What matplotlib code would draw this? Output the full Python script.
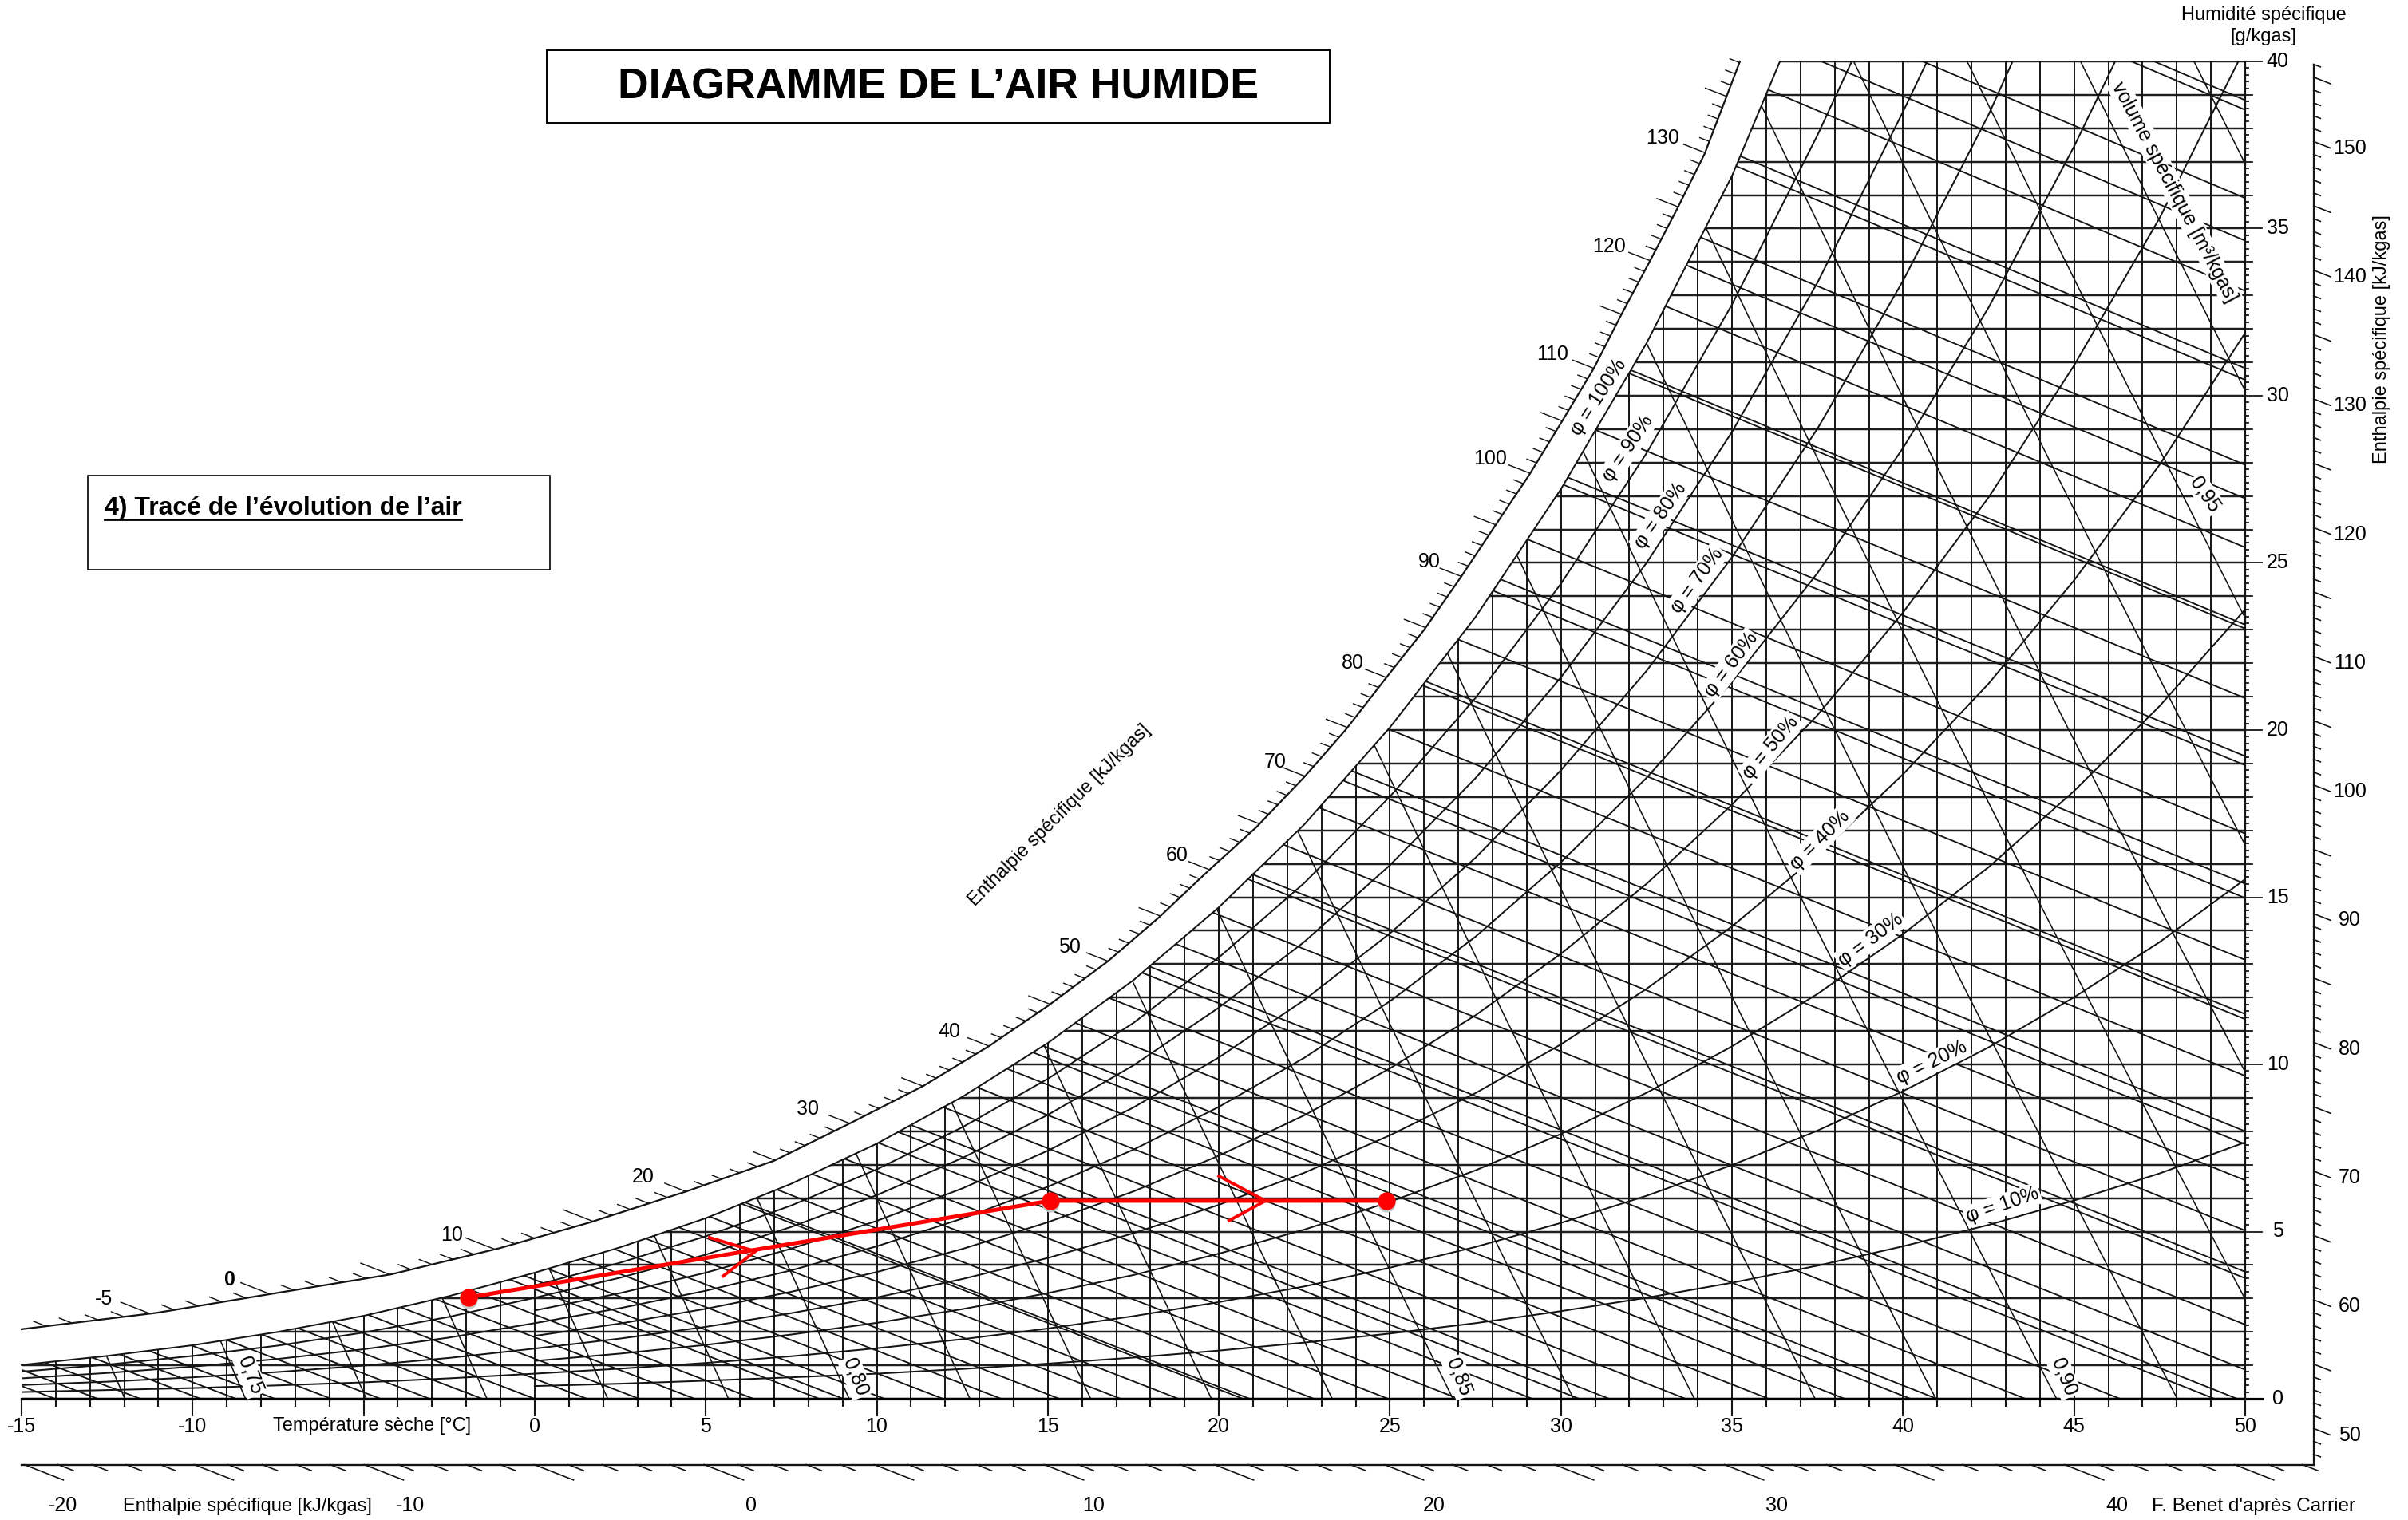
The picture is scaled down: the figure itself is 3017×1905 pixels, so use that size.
from matplotlib import pyplot as plt
from matplotlib.patches import Polygon, Rectangle
from matplotlib.collections import LineCollection
from matplotlib.lines import Line2D
import numpy as np

plt.rcParams['font.family'] = ['Liberation Sans', 'DejaVu Sans']

W, H = 3017, 1905
S = W / 1568

# relative humidity curves: w in g/kgas at t_grid temperatures
t_grid = [-15, -12.5, -10, -7.5, -5, -2.5, 0, 2.5, 5, 7.5, 10, 12.5, 15, 17.5, 20, 22.5, 25, 27.5, 30,
          32.5, 35, 37.5, 40, 42.5, 45, 47.5, 50]
phi_100 = [1.01, 1.28, 1.60, 2.00, 2.48, 3.07, 3.77, 4.53, 5.40, 6.43, 7.63, 9.03, 10.64, 12.52, 14.70,
           17.18, 20.08, 23.38, 27.21, 31.57, 36.58]
phi_90 = [.91, 1.15, 1.44, 1.80, 2.23, 2.76, 3.39, 4.07, 4.86, 5.78, 6.86, 8.12, 9.57, 11.24, 13.20,
          15.43, 18.01, 20.96, 24.38, 28.28, 32.73, 37.80]
phi_80 = [.81, 1.02, 1.28, 1.59, 1.98, 2.45, 3.02, 3.62, 4.31, 5.14, 6.09, 7.20, 8.49, 9.97, 11.70,
          13.67, 15.96, 18.56, 21.58, 25.00, 28.92, 33.39, 38.50]
phi_70 = [.71, .90, 1.12, 1.40, 1.73, 2.14, 2.64, 3.16, 3.77, 4.49, 5.32, 6.29, 7.42, 8.71, 10.21,
          11.93, 13.92, 16.18, 18.80, 21.77, 25.17, 29.02, 33.44, 38.41]
phi_60 = [.61, .77, .96, 1.19, 1.48, 1.83, 2.26, 2.71, 3.23, 3.84, 4.56, 5.39, 6.34, 7.45, 8.73,
          10.20, 11.89, 13.82, 16.05, 18.57, 21.44, 24.70, 28.44, 32.64, 37.46]
phi_50 = [.51, .64, .80, 1.00, 1.24, 1.53, 1.88, 2.25, 2.69, 3.20, 3.79, 4.48, 5.28, 6.20, 7.27,
          8.48, 9.88, 11.47, 13.31, 15.40, 17.77, 20.45, 23.52, 26.96, 30.91, 35.32]
phi_40 = [.41, .51, .64, .80, .99, 1.22, 1.50, 1.80, 2.15, 2.56, 3.03, 3.58, 4.21, 4.95, 5.80,
          6.76, 7.88, 9.14, 10.60, 12.26, 14.13, 16.25, 18.68, 21.39, 24.48, 27.94, 31.88]
phi_30 = [.31, .38, .48, .60, .74, .92, 1.13, 1.35, 1.61, 1.92, 2.27, 2.68, 3.16, 3.70, 4.34,
          5.06, 5.89, 6.83, 7.92, 9.15, 10.54, 12.11, 13.90, 15.90, 18.18, 20.72, 23.61]
phi_20 = [.20, .26, .32, .40, .49, .61, .75, .90, 1.07, 1.27, 1.51, 1.78, 2.10, 2.47, 2.89,
          3.36, 3.92, 4.54, 5.26, 6.07, 6.99, 8.02, 9.20, 10.51, 12.01, 13.66, 15.54]
phi_10 = [.10, .13, .16, .20, .25, .31, .38, .45, .54, .64, .75, .89, 1.05, 1.23, 1.44,
          1.68, 1.95, 2.26, 2.62, 3.02, 3.47, 3.98, 4.56, 5.20, 5.93, 6.74, 7.67]
# temperature where each curve reaches the 40 g/kgas top edge
t_top = {100: 36.4, 90: 38.5, 80: 40.7, 70: 43.2, 60: 46.2, 50: 49.8}
phi_curves = {100: phi_100, 90: phi_90, 80: phi_80, 70: phi_70, 60: phi_60, 50: phi_50,
              40: phi_40, 30: phi_30, 20: phi_20, 10: phi_10}
# odd tens only start at 0 degC on the chart
phi_from_zero = [90, 70, 50, 30, 10]

# enthalpy lines, kJ/kgas, as read where they meet the two edges of the grid
h_lines = [-14.2, -13, -11.8, -10.1, -9.1, -8, -6.4, -5, -3.6, -2.1, -0.6, 0.9, 2.4, 4, 5.7, 7.6, 8.3, 9.5,
           11.2, 12.9, 14.6, 16.4, 18.1, 20, 20.2, 22.1, 24.3, 26.4, 28.6, 30, 30.9, 33.2, 35.7, 38, 40,
           40.8, 43.5, 46.4, 49.3, 50, 52.5, 56, 59.6, 60.1, 63.3, 67.2, 70, 71, 75.3, 79.7, 80.1, 84.3,
           89.1, 90.2, 94.1, 99.4, 100.1, 104.6, 110, 110.3, 116.3, 120.1, 122.7, 129.3, 130.2, 136.2,
           140.1, 143.4, 150.25, 151]
# specific volume lines, m3/kgas
v_lines = [.74, .75, .76, .77, .78, .79, .80, .81, .82, .83, .84, .85, .86, .87, .88, .89, .90, .91, .92,
           .93, .94, .95, .96, .97]

# white band upper edge, carrying the enthalpy scale
outer_t = [-15, -11.05, -7.5, -4.2, -1.04, 1.6, 4.43, 7.0, 9.28, 11.35, 13.3, 15.0, 16.76, 18.25, 19.7, 21.1,
           22.5, 23.7, 24.87, 26.0, 27.07, 28.0, 29.05, 29.95, 30.96, 31.75, 32.6, 33.4, 34.2, 35.23]
outer_w = [2.08, 2.57, 3.17, 3.72, 4.5, 5.27, 6.2, 7.12, 8.27, 9.35, 10.56, 11.75, 13.09, 14.4, 15.8, 17.1,
           18.6, 20.0, 21.54, 23.0, 24.57, 26.0, 27.6, 29.1, 30.82, 32.4, 34.03, 35.6, 37.24, 40.0]

# air evolution
evo_t = [-1.94, 15.07, 24.9]
evo_w = [3.03, 5.92, 5.92]
arrow1_t = [5.11, 6.45, 5.51]
arrow1_w = [4.82, 4.41, 3.67]
arrow2_t = [20.0, 21.36, 20.3]
arrow2_w = [6.66, 5.92, 5.33]

t_labels = [-15, -10, 0, 5, 10, 15, 20, 25, 30, 35, 40, 45, 50]
w_labels = list(range(0, 41, 5))
# upper scale labels with their shift from the curve, in points
top_labels = {-5: -41.5, 0: -36, 10: -39, 20: -39, 30: -38, 40: -36, 50: -35, 60: -29, 70: -27, 80: -30,
              90: -29, 100: -36, 110: -37, 120: -37, 130: -38}
right_labels = list(range(50, 151, 10))
bottom_labels = [-20, -10, 0, 10, 20, 30, 40]
bottom_label_t = [-13.79, -3.64, 6.32, 16.33, 26.29, 36.3, 46.26]

# phi labels: value, x, y (in the 1568 wide view), rotation
phi_text = [(100, 1041, 259, 57), (90, 1060, 292, 56), (80, 1081, 336, 55), (70, 1105, 378, 54),
            (60, 1127, 433, 53), (50, 1153, 487, 50), (40, 1185, 547, 45), (30, 1218, 612, 37),
            (20, 1258, 692, 26), (10, 1304, 785, 19)]
v_text = [('0,75', 163, 896, -68), ('0,80', 557, 897, -68), ('0,85', 950, 897, -68), ('0,90', 1344, 897, -68),
          ('0,95', 1436, 322, -55)]


def h_line(h, t):
    return (h - 1.006 * t) / (2.501 + 0.00186 * t)


def v_line(v, w):
    return v * 352.93 / (1 + 0.001608 * w) - 273.15


def px(x, y):
    return x * S / W, 1 - y * S / H


fig = plt.figure(figsize=(W / 100, H / 100), dpi=100)
ax = fig.add_axes([27 / W, 1 - 1753 / H, (2813 - 27) / W, (1753 - 77) / H])
ax.set_xlim(-15, 50)
ax.set_ylim(0, 40)
ax.axis('off')

sat_t = t_grid[:len(phi_100)] + [t_top[100]]
sat_w = phi_100 + [40]
clip = Polygon(list(zip([-15] + sat_t + [50, 50], [0] + sat_w + [40, 0])), transform=ax.transData,
               fill=False, edgecolor='none')
ax.add_patch(clip)

ink = '#141414'
T_all = np.arange(-15, 51)
W_all = np.arange(0, 41)

halo = ax.hlines(W_all, -15, 50, color='#c4c4c4', lw=2.7, zorder=1)
halo.set_clip_path(clip)
hor = ax.hlines(W_all, -15, 50, color=ink, lw=1.35, zorder=2)
hor.set_clip_path(clip)
ver = ax.vlines(T_all, 0, 40, color=ink, lw=1.4, zorder=2)
ver.set_clip_path(clip)

t_span = np.array([-16, 51])
lines_h = [np.column_stack([t_span, h_line(h, t_span)]) for h in h_lines]
lc = LineCollection(lines_h, colors=ink, linewidths=1.35, zorder=3)
ax.add_collection(lc)
lc.set_clip_path(clip)

w_span = np.arange(0, 41, 4)
lines_v = [np.column_stack([v_line(v, w_span), w_span]) for v in v_lines]
lc = LineCollection(lines_v, colors=ink, linewidths=1.15, zorder=3)
ax.add_collection(lc)
lc.set_clip_path(clip)

for rh, vals in phi_curves.items():
    ts = t_grid[:len(vals)]
    ws = list(vals)
    if rh in t_top:
        ts = ts + [t_top[rh]]
        ws = ws + [40]
    if rh in phi_from_zero:
        ts = ts[6:]
        ws = ws[6:]
    line, = ax.plot(ts, ws, color=ink, lw=1.45, zorder=3, solid_joinstyle='round', clip_on=rh != 100)
    if rh != 100:
        line.set_clip_path(clip)

# axis ticks along the grid
ax.plot([-15, 50.5], [0, 0], color='black', lw=2.3, clip_on=False, zorder=4)
ax.plot([50, 50], [0, 40], color=ink, lw=1.6, clip_on=False, zorder=4)
for t in T_all:
    ax.plot([t, t], [0, -0.5 if t % 5 == 0 else -0.22], color=ink, lw=1.5, clip_on=False)
for w in np.arange(0, 40.01, 0.2):
    if abs(w % 5) < 1e-6 or abs(w % 5 - 5) < 1e-6:
        end = 50.5
    elif abs(w - round(w)) < 1e-6:
        end = 50.22
    else:
        end = 50.1
    ax.plot([50, end], [w, w], color=ink, lw=1.3, clip_on=False)

# upper enthalpy scale
ax.plot(outer_t, outer_w, color=ink, lw=1.6, clip_on=False)
outer_h = 1.006 * np.array(outer_t) + np.array(outer_w) * (2.501 + 0.00186 * np.array(outer_t))
for h in range(-9, 139):
    t0 = np.interp(h, outer_h, outer_t)
    w0 = np.interp(h, outer_h, outer_w)
    if h % 5 == 0:
        d = 0.85 if h < 20 else 0.62
    else:
        d = 0.37 if h < 20 else 0.28
    ax.plot([t0, t0 - d], [w0, w0 + 0.4 * d], color=ink, lw=1.05, clip_on=False)
    if h in top_labels:
        ax.annotate(str(h), (t0, w0), xytext=(top_labels[h], 13), textcoords='offset points', ha='center',
                    va='center', fontsize=18, fontweight='bold' if h == 0 else 'normal', annotation_clip=False)

# lower enthalpy scale
low_w = -1.97
ax.plot([-15, 52], [low_w, low_w], color=ink, lw=1.7, clip_on=False)
for h in range(-20, 48):
    t0 = (h - low_w * 2.53) / 1.006
    d = 1.15 if h % 5 == 0 else 0.45
    ax.plot([t0, t0 + d], [low_w, low_w - 0.4 * d], color=ink, lw=1.2, clip_on=False)
for h, t0 in zip(bottom_labels, bottom_label_t):
    ax.text(t0, -3.19, str(h), ha='center', va='center', fontsize=18, clip_on=False)

# right enthalpy scale
ax.plot([52, 52], [low_w, 39.9], color=ink, lw=1.6, clip_on=False)
for h in range(48, 157):
    w0 = h_line(h, 52)
    d = 0.5 if h % 5 == 0 else 0.2
    ax.plot([52, 52 + d], [w0, w0 - 0.4 * d], color=ink, lw=1.2, clip_on=False)
    if h in right_labels:
        ax.text(53.05, w0 - 0.2, str(h), ha='center', va='center', fontsize=18, clip_on=False)

for t in t_labels:
    ax.text(t, -0.83, str(t), ha='center', va='center', fontsize=18, clip_on=False)
for w in w_labels:
    ax.text(50.95, w, str(w), ha='center', va='center', fontsize=18, clip_on=False)

# labels on the curves, the white box cuts the lines as on the chart
mask = dict(facecolor='white', edgecolor='none', pad=1.5)
for rh, x, y, rot in phi_text:
    fx, fy = px(x, y)
    fig.text(fx, fy, f'\u03c6 = {rh}%', rotation=rot, rotation_mode='anchor', ha='center', va='center',
             fontsize=18, bbox=mask, zorder=6)
for lab, x, y, rot in v_text:
    fx, fy = px(x, y)
    fig.text(fx, fy, lab, rotation=rot, rotation_mode='anchor', ha='center', va='center', fontsize=18,
             bbox=mask, zorder=6)
fx, fy = px(1416, 125)
fig.text(fx, fy, 'volume spécifique [m\u00b3/kgas]', rotation=-62, rotation_mode='anchor', ha='center',
         va='center', fontsize=18, bbox=mask, zorder=6)

fx, fy = px(690, 531)
fig.text(fx, fy, 'Enthalpie spécifique [kJ/kgas]', rotation=45, rotation_mode='anchor', ha='center', va='center',
         fontsize=17)
fx, fy = px(242, 929)
fig.text(fx, fy, 'Température sèche [°C]', ha='center', va='center', fontsize=17)
fx, fy = px(161, 981)
fig.text(fx, fy, 'Enthalpie spécifique [kJ/kgas]', ha='center', va='center', fontsize=17)
fx, fy = px(1401, 981)
fig.text(fx, fy, "F. Benet d'après Carrier", ha='left', va='center', fontsize=17.5)
fx, fy = px(1474, 10)
fig.text(fx, fy, 'Humidité spécifique', ha='center', va='center', fontsize=17)
fx, fy = px(1474, 24)
fig.text(fx, fy, '[g/kgas]', ha='center', va='center', fontsize=17)
fx, fy = px(1551, 221)
fig.text(fx, fy, 'Enthalpie spécifique [kJ/kgas]', rotation=90, ha='center', va='center', fontsize=17)

# title and note boxes
x0, y0 = px(356, 80)
x1, y1 = px(866, 33)
fig.add_artist(Rectangle((x0, y0), x1 - x0, y1 - y0, transform=fig.transFigure, fill=False, edgecolor='black', lw=1.4))
fx, fy = px(611, 57)
fig.text(fx, fy, 'DIAGRAMME DE L\u2019AIR HUMIDE', ha='center', va='center', fontsize=38.5, fontweight='bold')

x0, y0 = px(57, 371)
x1, y1 = px(358, 310)
fig.add_artist(Rectangle((x0, y0), x1 - x0, y1 - y0, transform=fig.transFigure, fill=False, edgecolor='black', lw=1.2))
fx, fy = px(68, 331)
note = fig.text(fx, fy, '4) Tracé de l\u2019évolution de l\u2019air', ha='left', va='center', fontsize=23, fontweight='bold')
bb = note.get_window_extent(fig.canvas.get_renderer())
fig.add_artist(Line2D([bb.x0 / W, bb.x1 / W], [(bb.y0 + 1) / H, (bb.y0 + 1) / H], transform=fig.transFigure,
                      color='black', lw=2))

# air evolution in red
red = '#ff0000'
ax.plot(evo_t, evo_w, color=red, lw=3.6, zorder=7, clip_on=False)
ax.plot(evo_t, np.array(evo_w) - 0.07, 'o', color='#c8c8c8', ms=15, zorder=6.5, clip_on=False)
ax.plot(evo_t, evo_w, 'o', color=red, ms=15, zorder=8, clip_on=False)
ax.plot(arrow1_t, arrow1_w, color=red, lw=2.8, zorder=7, solid_joinstyle='miter')
ax.plot(arrow2_t, arrow2_w, color=red, lw=2.8, zorder=7, solid_joinstyle='miter')

plt.savefig('out.png', dpi=100)
